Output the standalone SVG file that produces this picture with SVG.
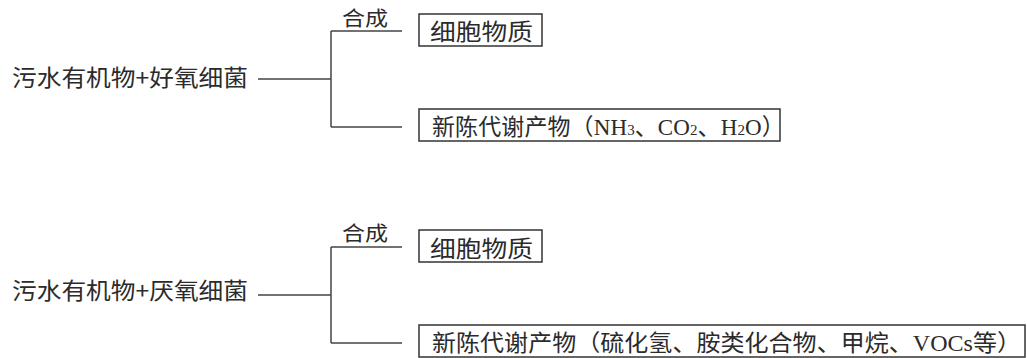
<svg xmlns="http://www.w3.org/2000/svg" width="1027" height="358" viewBox="0 0 1027 358">
<style>
text{font-family:"Noto Sans CJK SC","Liberation Sans",sans-serif;fill:#2b2b2b;}
.t{font-size:23px;}
.s{font-size:20px;}
.lat{font-family:"Liberation Serif","Noto Sans CJK SC",serif;}
.sub{font-family:"Liberation Serif",serif;font-size:15px;}
.box{fill:#fff;stroke:#333;stroke-width:1.5;}
.ln{fill:none;stroke:#444;stroke-width:1.5;}
</style>
<rect width="1027" height="358" fill="#fff"/>
<g id="connectors">
<path class="ln" d="M258 79H331M331 31V127M331 31H402M331 127H402"/>
<path class="ln" d="M258 295H331M331 247V343M331 247H402M331 343H402"/>
</g>
<g id="src1"><text class="t" x="12" y="86" textLength="236" lengthAdjust="spacingAndGlyphs">污水有机物+好氧细菌</text></g>
<g id="lbl1"><text class="s" x="342" y="26" textLength="46" lengthAdjust="spacingAndGlyphs">合成</text></g>
<g id="cell1"><rect class="box" x="419" y="14" width="123" height="32"/><text class="t" x="430" y="40" textLength="103" lengthAdjust="spacingAndGlyphs">细胞物质</text></g>
<g id="meta1"><rect class="box" x="419" y="109" width="361" height="32"/><text class="t" x="432" y="135" letter-spacing="0.1">新陈代谢产物（<tspan class="lat">NH</tspan><tspan class="sub">3</tspan>、<tspan class="lat">CO</tspan><tspan class="sub">2</tspan>、<tspan class="lat">H</tspan><tspan class="sub">2</tspan><tspan class="lat">O</tspan>）</text></g>
<g id="src2"><text class="t" x="12" y="299" textLength="236" lengthAdjust="spacingAndGlyphs">污水有机物+厌氧细菌</text></g>
<g id="lbl2"><text class="s" x="342" y="241" textLength="46" lengthAdjust="spacingAndGlyphs">合成</text></g>
<g id="cell2"><rect class="box" x="419" y="230" width="123" height="32"/><text class="t" x="430" y="257" textLength="103" lengthAdjust="spacingAndGlyphs">细胞物质</text></g>
<g id="meta2"><rect class="box" x="419" y="325" width="606" height="32"/><text class="t" x="432" y="351" textLength="589" lengthAdjust="spacingAndGlyphs">新陈代谢产物（硫化氢、胺类化合物、甲烷、<tspan class="lat">VOCs</tspan>等）</text></g>
</svg>
